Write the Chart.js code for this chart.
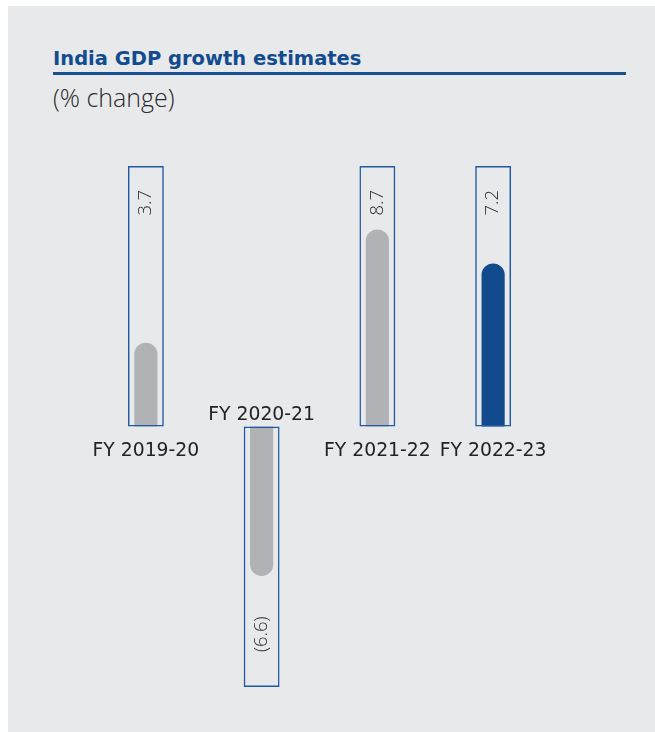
<!DOCTYPE html>
<html>
<head>
<meta charset="utf-8">
<script src="https://cdn.jsdelivr.net/npm/chart.js@4.4.0/dist/chart.umd.min.js"></script>
<style>
  html, body { margin: 0; padding: 0; background: #fff; }
  body { width: 655px; height: 732px; position: relative; overflow: hidden; font-family: 'DejaVu Sans', sans-serif; }
  .panel { position: absolute; left: 8px; top: 6px; width: 647px; height: 726px; background: #e8e9eb; }
  .title { position: absolute; left: 53px; top: 47px; width: 573px; font-weight: bold; font-size: 19.5px; line-height: 23px; color: #124c8f; padding-bottom: 2px; border-bottom: 3px solid #1a4f91; }
  .subtitle { position: absolute; left: 53px; top: 83px; font-family: 'Open Sans', sans-serif; font-size: 25px; line-height: 29px; font-weight: 300; color: #2a2a2a; }
  #chart { position: absolute; left: 0; top: 0; }
</style>
</head>
<body>
<div class="panel"></div>
<div class="title">India GDP growth estimates</div>
<div class="subtitle">(% change)</div>
<canvas id="chart" width="655" height="732"></canvas>
<script>
// Chart data
const categories = ['FY 2019-20', 'FY 2020-21', 'FY 2021-22', 'FY 2022-23'];
const growth = [3.7, -6.6, 8.7, 7.2];
const valueLabels = ['3.7', '(6.6)', '8.7', '7.2'];
const trackMax = 11.5; // length of the outlined track behind each bar

const gray = '#b1b2b5';
const blue = '#114b8e';
const frameBlue = '#1f5aa2';

// category names and value labels drawn next to the bars
const barLabels = {
    id: 'barLabels',
    afterDatasetsDraw(chart) {
        const { ctx, scales: { x, y } } = chart;
        const zero = y.getPixelForValue(0);
        const top = y.getPixelForValue(trackMax);
        const bottom = y.getPixelForValue(-trackMax);
        ctx.save();
        categories.forEach((cat, i) => {
            const cx = x.getPixelForValue(i);
            const neg = growth[i] < 0;

            ctx.font = '18.8px "DejaVu Sans"';
            ctx.fillStyle = '#222';
            ctx.textAlign = 'center';
            ctx.textBaseline = 'alphabetic';
            ctx.fillText(cat, cx, neg ? zero - 6.5 : zero + 29);

            ctx.save();
            ctx.translate(cx, neg ? bottom - 35 : top + 24);
            ctx.rotate(-Math.PI / 2);
            ctx.font = '300 18.5px "Open Sans"';
            ctx.fillStyle = '#2a2a2a';
            ctx.textAlign = neg ? 'left' : 'right';
            ctx.textBaseline = 'middle';
            ctx.fillText(valueLabels[i], 0, 0);
            ctx.restore();
        });
        ctx.restore();
    }
};

const ctx = document.getElementById('chart').getContext('2d');
new Chart(ctx, {
    type: 'bar',
    data: {
        labels: categories,
        datasets: [
            {
                label: 'track',
                data: growth.map(v => v < 0 ? -trackMax : trackMax),
                backgroundColor: 'rgba(0,0,0,0)',
                borderColor: frameBlue,
                borderWidth: 1.5,
                borderSkipped: false,
                barPercentage: 0.31,
                categoryPercentage: 1,
                grouped: false,
                order: 0,
                clip: false
            },
            {
                label: 'GDP growth',
                data: growth,
                backgroundColor: c => c.dataIndex === 3 ? blue : gray,
                borderWidth: 0,
                borderRadius: 12,
                borderSkipped: 'start',
                barPercentage: 0.2,
                categoryPercentage: 1,
                grouped: false,
                order: 1,
                clip: false
            }
        ]
    },
    options: {
        responsive: false,
        animation: false,
        layout: { padding: { left: 88, right: 104, top: 166, bottom: 45 } },
        plugins: { legend: { display: false }, tooltip: { enabled: false } },
        scales: {
            x: { display: false, offset: true, grid: { display: false } },
            y: { display: false, min: -trackMax, max: trackMax }
        }
    },
    plugins: [barLabels]
});
</script>
</body>
</html>
